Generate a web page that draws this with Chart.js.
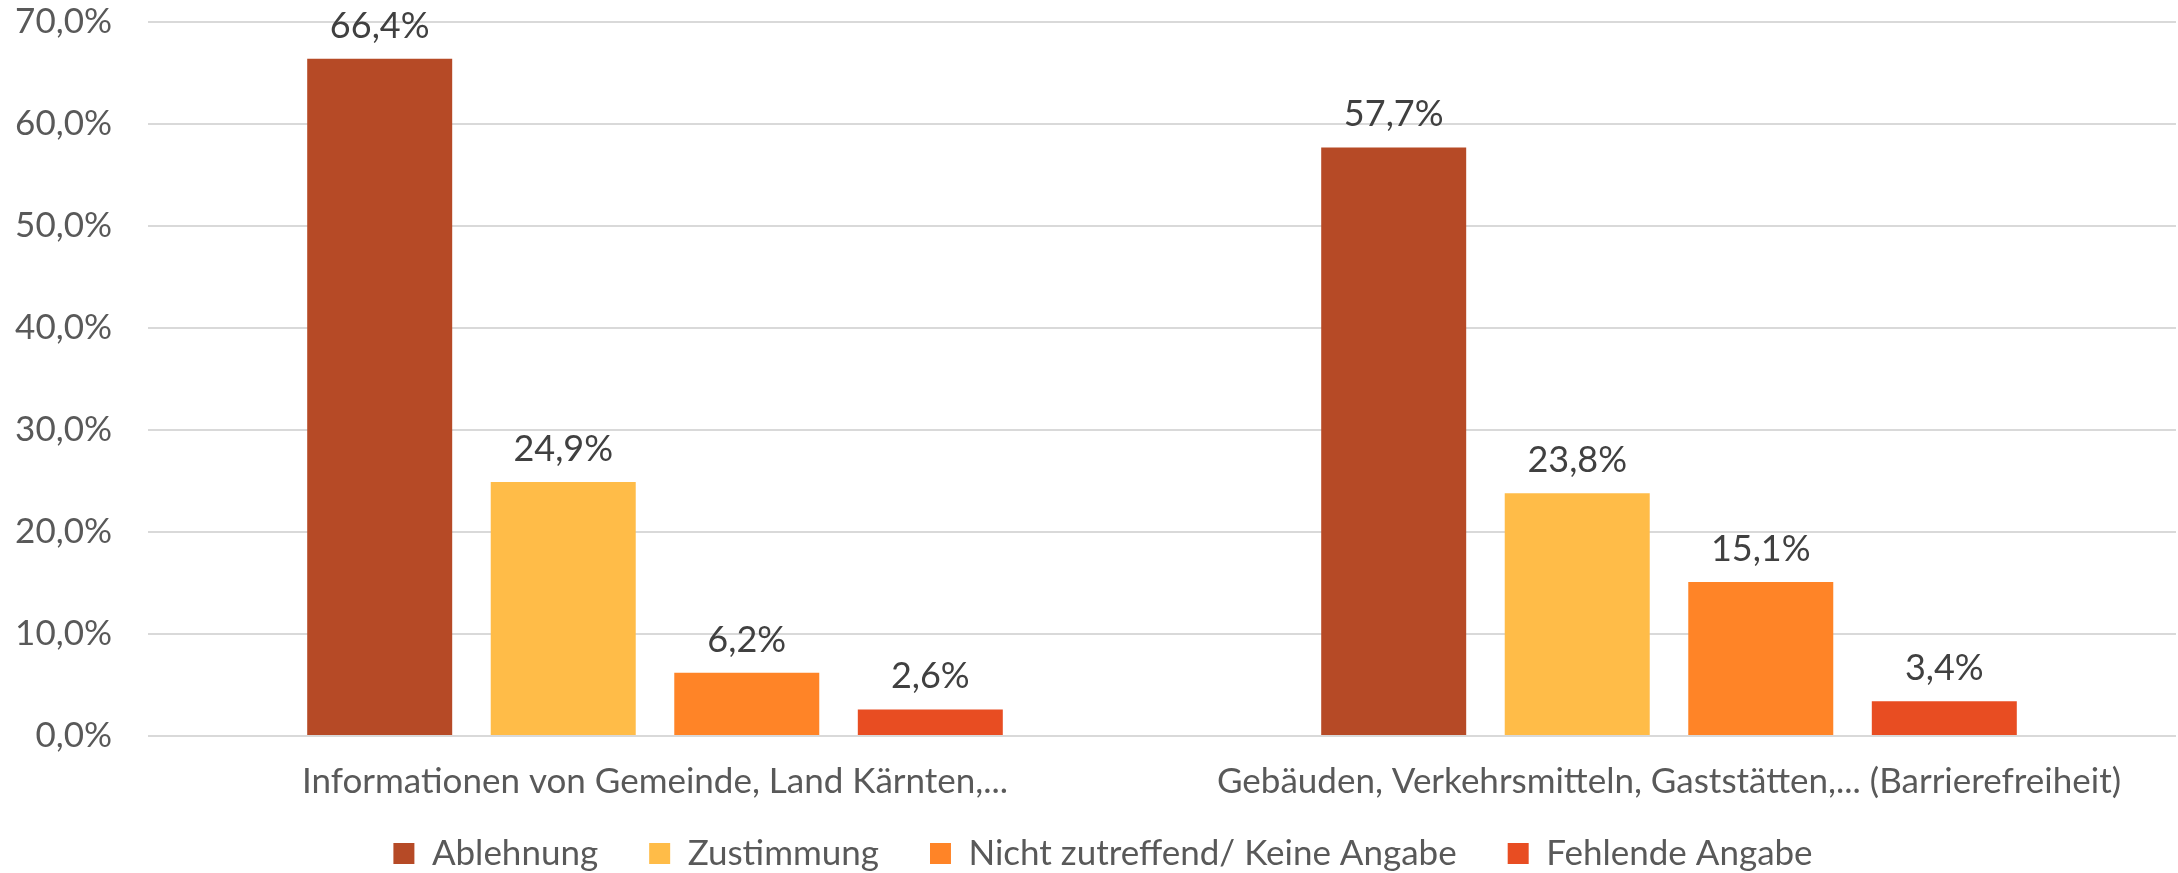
<!DOCTYPE html>
<html>
<head>
<meta charset="utf-8">
<script src="https://cdn.jsdelivr.net/npm/chart.js@4.4.1/dist/chart.umd.min.js"></script>
<style>
html,body{margin:0;padding:0;background:#fff;}
#wrap{width:2178px;height:873px;position:relative;}
</style>
</head>
<body>
<div id="wrap"><canvas id="c" width="2178" height="873"></canvas></div>
<script>
const categories = ["Informationen von Gemeinde, Land Kärnten,...", "Gebäuden, Verkehrsmitteln, Gaststätten,... (Barrierefreiheit)"];
const seriesNames = ["Ablehnung", "Zustimmung", "Nicht zutreffend/ Keine Angabe", "Fehlende Angabe"];
const ablehnung = [66.4, 57.7];
const zustimmung = [24.9, 23.8];
const nichtZutreffend = [6.2, 15.1];
const fehlend = [2.6, 3.4];
const yTicks = [0, 10, 20, 30, 40, 50, 60, 70];
const colors = ["#B64A26", "#FFBC48", "#FF8427", "#E84D22"];

const fmt = v => v.toFixed(1).replace('.', ',') + '%';
const FONT = 'Lato, "Open Sans", sans-serif';

const dataLabels = {
  id: 'dataLabels',
  afterDatasetsDraw(chart) {
    const ctx = chart.ctx;
    ctx.save();
    ctx.font = '36px ' + FONT;
    ctx.fillStyle = '#404040';
    ctx.textAlign = 'center';
    ctx.textBaseline = 'alphabetic';
    chart.data.datasets.forEach((ds, i) => {
      const meta = chart.getDatasetMeta(i);
      meta.data.forEach((el, j) => {
        ctx.fillText(fmt(ds.data[j]), el.x, el.y - 21);
      });
    });
    ctx.restore();
  }
};

// let the legend box start a little higher (overlapping the empty part of the axis box)
const legendShift = {
  id: 'legendShift',
  afterLayout(chart) {
    const l = chart.legend;
    if (l) { l.top -= 18; l.height += 18; l.left += 15; l.right += 15; }
  }
};

const seriesData = [ablehnung, zustimmung, nichtZutreffend, fehlend];

new Chart(document.getElementById('c'), {
  type: 'bar',
  data: {
    labels: categories,
    datasets: seriesNames.map((n, i) => ({
      label: n,
      data: seriesData[i],
      backgroundColor: colors[i],
      borderWidth: 0,
      categoryPercentage: 0.724,
      barPercentage: 0.79
    }))
  },
  options: {
    responsive: false,
    animation: false,
    devicePixelRatio: 1,
    layout: { padding: { top: 22, right: 2, bottom: 0, left: 0 } },
    plugins: {
      legend: {
        position: 'bottom',
        maxHeight: 70,
        labels: {
          font: { family: FONT, size: 35 },
          color: '#595959',
          boxWidth: 21,
          boxHeight: 21,
          padding: 51
        }
      },
      tooltip: { enabled: false }
    },
    scales: {
      x: {
        afterFit: s => { s.height = 67; s.paddingLeft = 0; s.paddingRight = 0; },
        grid: { display: false, drawTicks: false },
        border: { display: false },
        ticks: { font: { family: FONT, size: 35 }, color: '#595959', padding: 25, maxRotation: 0, autoSkip: false }
      },
      y: {
        min: 0, max: 70,
        afterBuildTicks: s => { s.ticks = yTicks.map(v => ({ value: v })); },
        afterFit: s => { s.width = 148; s.paddingTop = 0; s.paddingBottom = 0; },
        grid: { color: '#D9D9D9', lineWidth: 2, drawTicks: false },
        border: { display: false },
        ticks: {
          font: { family: FONT, size: 35 },
          color: '#595959',
          padding: 36,
          callback: v => fmt(v)
        }
      }
    }
  },
  plugins: [dataLabels, legendShift]
});
</script>
</body>
</html>
